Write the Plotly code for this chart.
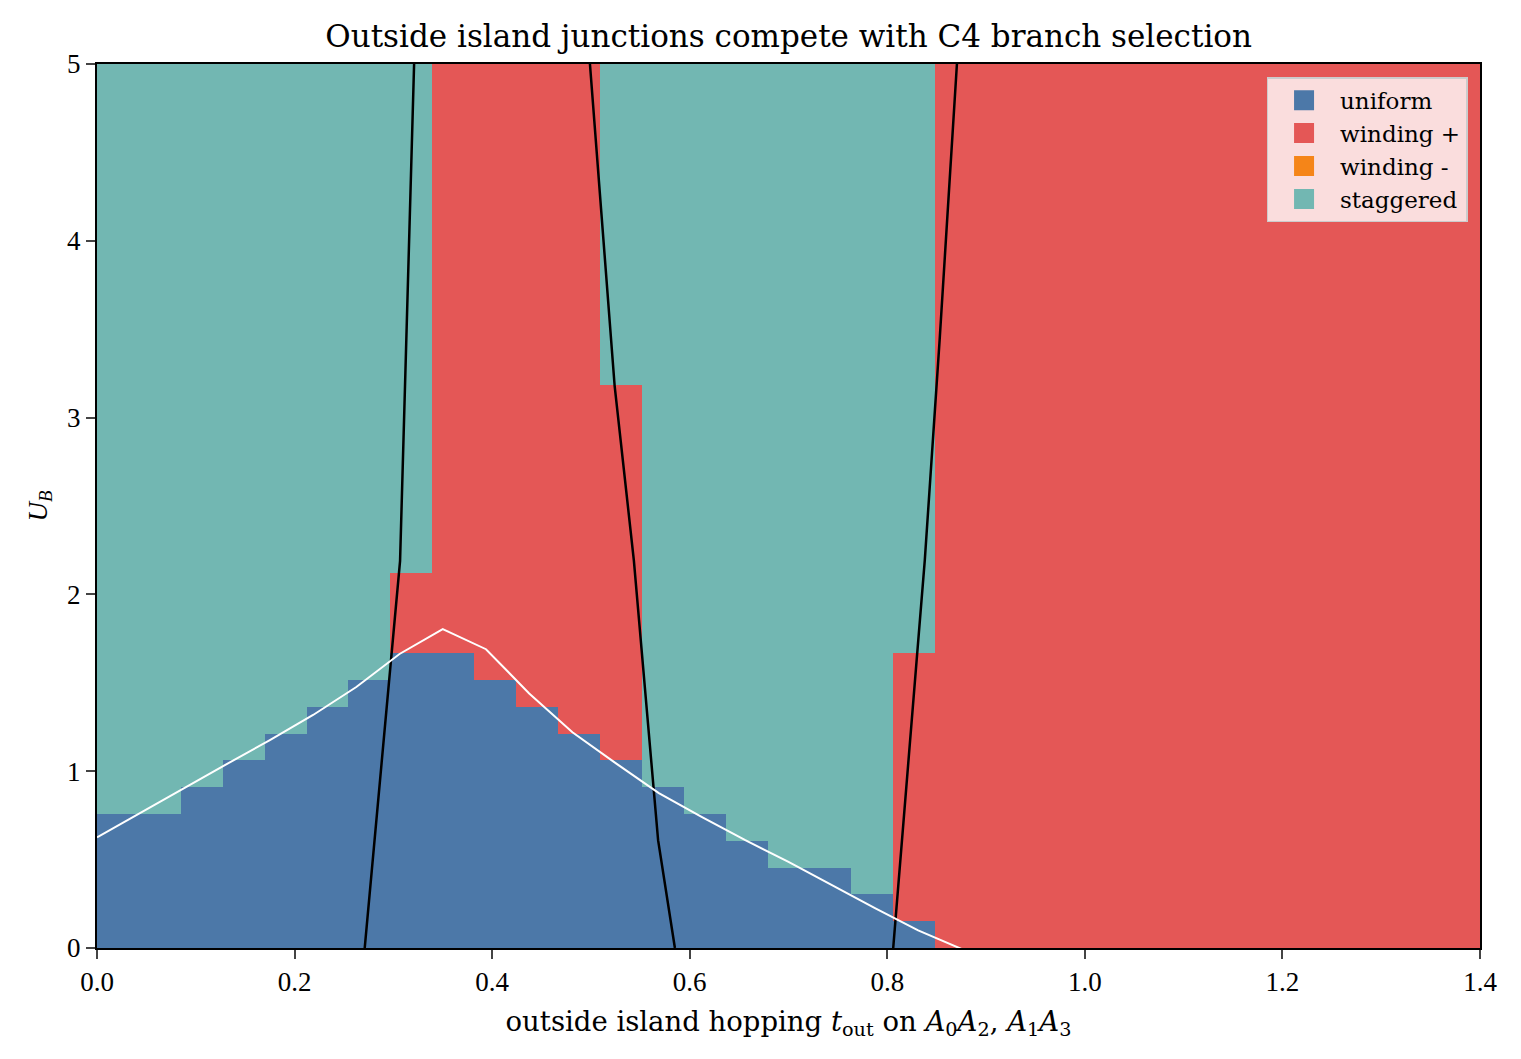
import numpy as np
import plotly.graph_objects as go

# ---------------- data ----------------
n_t, n_u = 33, 33
t_max, u_max = 1.4, 5.0
phases = ["uniform", "winding +", "winding -", "staggered"]
phase_colors = ["#4c78a8", "#e45756", "#f58518", "#72b7b2"]

# per column (t index): number of rows that are uniform, and top row of winding + region
uniform_rows = [5, 5, 6, 7, 8, 9, 10, 11, 11, 10, 9, 8, 7, 6, 5, 4, 3, 3, 2, 1,
                0, 0, 0, 0, 0, 0, 0, 0, 0, 0, 0, 0, 0]
winding_rows = [5, 5, 6, 7, 8, 9, 10, 14, 33, 33, 33, 33, 21, 6, 5, 4, 3, 3, 2, 11,
                33, 33, 33, 33, 33, 33, 33, 33, 33, 33, 33, 33, 33]

# white boundary curve (sampled on t grid)
white_t = [0.0, 0.04375, 0.0875, 0.13125, 0.175, 0.21875, 0.2625, 0.30625, 0.35, 0.39375,
           0.4375, 0.48125, 0.525, 0.56875, 0.6125, 0.65625, 0.7, 0.74375, 0.7875, 0.83125,
           0.875, 0.91875]
white_u = [0.626, 0.765, 0.905, 1.04, 1.176, 1.318, 1.476, 1.663, 1.804, 1.69,
           1.44, 1.22, 1.046, 0.876, 0.74, 0.61, 0.487, 0.356, 0.226, 0.10,
           -0.005, -0.11]

# black curves
black1_t = [0.271, 0.3068, 0.321]
black1_u = [0.0, 2.19, 5.0]
black2_t = [0.499, 0.524, 0.5435, 0.568, 0.585]
black2_u = [5.0, 3.18, 2.19, 0.61, 0.0]
black3_t = [0.806, 0.838, 0.853, 0.8705]
black3_u = [0.0, 2.195, 3.44, 5.0]

# ---------------- build grid ----------------
z = np.full((n_u, n_t), 3)
for k in range(n_t):
    z[:uniform_rows[k], k] = 0
    z[uniform_rows[k]:winding_rows[k], k] = 1

dt, du = t_max / n_t, u_max / n_u
xc = (np.arange(n_t) + 0.5) * dt
yc = (np.arange(n_u) + 0.5) * du

cs = []
for i, c in enumerate(phase_colors):
    cs.append([i / 4, c])
    cs.append([(i + 1) / 4, c])

fig = go.Figure()
fig.add_trace(go.Heatmap(x=xc, y=yc, z=z, colorscale=cs, zmin=-0.5, zmax=3.5,
                         showscale=False, hoverinfo="skip", showlegend=False))

for tt, uu in [(black1_t, black1_u), (black2_t, black2_u), (black3_t, black3_u)]:
    fig.add_trace(go.Scatter(x=tt, y=uu, mode="lines", line=dict(color="black", width=2.5),
                             showlegend=False))
fig.add_trace(go.Scatter(x=white_t, y=white_u, mode="lines",
                         line=dict(color="white", width=2), showlegend=False))

for name, c in zip(phases, phase_colors):
    fig.add_trace(go.Scatter(x=[None], y=[None], mode="markers", name=name,
                             marker=dict(symbol="square", size=16, color=c,
                                         line=dict(color=c, width=4))))

tick_font = "Liberation Serif"
text_font = "DejaVu Serif"
fig.update_layout(
    width=1521, height=1059,
    margin=dict(l=97, r=41, t=64, b=111),
    paper_bgcolor="white", plot_bgcolor="white",
    font=dict(family=tick_font, size=27, color="black"),
    title=dict(text="Outside island junctions compete with C4 branch selection",
               x=0.5185, xanchor="center", y=0.966, yanchor="middle",
               font=dict(size=31, family=text_font)),
    legend=dict(x=0.991, y=0.985, xanchor="right", yanchor="top",
                bgcolor="rgba(255,255,255,0.8)", bordercolor="#cccccc", borderwidth=1.5,
                font=dict(size=23, family=text_font), itemwidth=62),
    xaxis=dict(range=[0, t_max], tickvals=[0, 0.2, 0.4, 0.6, 0.8, 1.0, 1.2, 1.4],
               tickformat=".1f", ticks="outside", ticklen=9, tickwidth=2,
               showline=True, linecolor="black", linewidth=2, mirror=True,
               showgrid=False, zeroline=False,
               title=dict(text="outside island hopping <i>t</i><sub>out</sub> on "
                               "<i>A</i><sub>0</sub><i>A</i><sub>2</sub>, "
                               "<i>A</i><sub>1</sub><i>A</i><sub>3</sub>",
                          font=dict(size=27.5, family=text_font), standoff=15)),
    yaxis=dict(range=[0, u_max], tickvals=[0, 1, 2, 3, 4, 5],
               ticks="outside", ticklen=9, tickwidth=2,
               showline=True, linecolor="black", linewidth=2, mirror=True,
               showgrid=False, zeroline=False,
               title=dict(text="<i>U</i><sub><i>B</i></sub>",
                          font=dict(size=27, family=tick_font), standoff=12)),
)

fig.write_html("out.html")
